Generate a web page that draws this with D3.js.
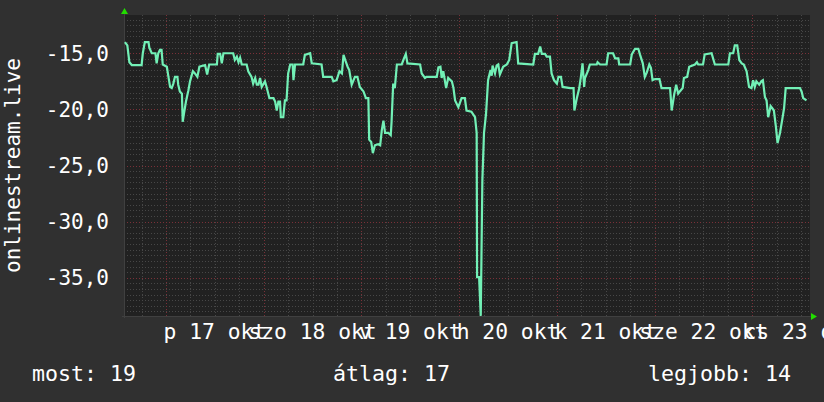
<!DOCTYPE html>
<html><head><meta charset="utf-8">
<script src="https://cdn.jsdelivr.net/npm/d3@7"></script>
<style>html,body{margin:0;padding:0;background:#303030;}svg{display:block;}</style>
</head><body><svg id="c" width="824" height="402"></svg>
<script>
// hours since 2014-10-17 00:00 (Friday)
const hours = [-10.1,-9.5,-9.0,-8.4,-6.0,-5.7,-5.2,-4.3,-4.1,-3.5,-2.6,-2.3,-1.9,-1.5,-1.1,-0.8,0.2,0.6,1.0,1.4,1.8,2.2,2.8,3.0,3.4,3.9,4.1,4.4,4.9,5.5,5.9,6.6,7.1,7.7,8.2,9.6,10.1,10.6,12.5,12.7,13.3,13.7,14.1,16.5,16.9,17.4,17.8,18.2,18.6,19.8,20.2,21.0,21.4,21.9,22.3,22.7,23.1,23.5,24.3,24.7,25.4,26.4,26.8,27.2,27.6,28.0,28.2,28.8,29.2,29.6,30.0,30.5,31.1,31.3,31.7,33.7,34.1,35.4,35.8,38.2,38.6,40.7,41.1,41.9,42.6,43.2,43.6,44.2,44.6,45.0,45.6,46.4,47.0,47.6,48.5,49.1,49.7,49.9,50.4,50.8,51.3,52.1,52.6,53.0,53.4,53.8,54.6,55.2,55.4,55.8,56.2,56.7,57.9,58.3,58.9,59.3,62.4,62.8,63.6,64.0,66.5,66.9,67.4,67.7,68.1,68.8,69.3,70.2,70.6,71.0,71.8,72.6,73.4,73.8,75.0,75.9,76.3,76.4,76.9,77.3,77.7,78.1,78.6,79.1,79.7,80.0,80.2,80.8,81.2,81.6,82.0,82.8,83.7,84.3,84.9,86.1,86.5,90.2,90.6,91.4,91.9,92.3,93.1,93.5,94.3,94.7,95.3,96.0,96.4,97.0,97.4,99.3,100.1,100.3,100.9,101.5,101.9,102.3,102.7,102.9,103.7,104.1,105.8,106.0,106.6,108.2,108.6,109.8,110.3,111.1,111.3,114.0,114.4,115.2,116.0,116.4,117.1,117.6,118.1,118.7,119.1,119.5,120.1,121.2,121.7,123.8,124.2,124.8,125.3,125.8,126.2,126.9,127.2,128.0,128.5,129.9,130.4,130.7,131.9,132.3,134.0,134.8,138.1,138.5,139.3,139.7,140.3,140.8,141.4,141.9,142.6,143.2,143.8,144.2,144.6,145.0,145.7,146.2,146.6,147.1,147.5,147.9,148.5,148.9,149.3,149.8,150.2,150.8,151.4,151.8,152.2,155.7,156.1,156.5,157.3];
const values = [-14.0,-14.3,-15.8,-16.05,-16.05,-15.0,-14.0,-14.0,-14.5,-15.0,-15.0,-15.9,-15.0,-14.7,-14.7,-16.0,-16.2,-17.1,-18.0,-18.1,-17.7,-17.1,-17.1,-17.8,-18.4,-18.6,-21.1,-20.4,-19.3,-18.3,-17.5,-16.6,-16.8,-17.1,-16.2,-16.05,-16.9,-16.0,-16.0,-15.05,-15.05,-15.9,-15.0,-15.0,-15.6,-15.3,-15.8,-15.4,-16.0,-16.0,-16.6,-17.1,-17.7,-17.2,-17.8,-17.8,-17.2,-18.0,-17.5,-18.0,-19.0,-19.0,-19.3,-20.1,-19.3,-19.3,-20.7,-20.7,-19.2,-19.2,-16.8,-16.0,-16.0,-17.4,-16.0,-16.0,-15.15,-15.0,-15.9,-16.0,-17.1,-17.1,-17.5,-17.4,-16.6,-16.8,-15.15,-15.8,-16.2,-16.5,-17.8,-17.1,-17.1,-18.0,-18.4,-19.0,-19.0,-22.7,-22.9,-23.9,-23.2,-23.1,-23.2,-21.85,-21.0,-22.1,-22.1,-22.3,-21.1,-17.7,-18.1,-16.0,-16.0,-15.6,-15.06,-15.9,-16.0,-16.8,-17.2,-17.1,-17.1,-16.25,-16.2,-17.2,-16.6,-18.1,-17.2,-17.5,-18.1,-19.2,-19.8,-19.0,-19.0,-20.1,-20.2,-20.7,-22.1,-34.95,-34.95,-38.4,-26.3,-22.1,-20.4,-17.4,-16.5,-17.0,-16.1,-16.8,-16.1,-16.0,-16.9,-16.2,-16.0,-15.6,-14.1,-14.0,-15.9,-16.0,-15.05,-15.05,-14.4,-15.05,-15.05,-15.3,-15.3,-16.8,-17.4,-17.7,-17.1,-17.1,-18.0,-18.1,-18.1,-20.1,-19.0,-18.1,-17.1,-15.9,-18.0,-17.2,-16.5,-16.0,-16.0,-15.8,-16.0,-16.0,-15.0,-15.0,-15.45,-15.45,-16.0,-16.0,-15.1,-14.6,-14.6,-15.1,-15.9,-17.1,-16.7,-16.0,-16.3,-17.4,-17.3,-17.3,-18.1,-18.1,-20.1,-18.7,-17.8,-18.6,-18.4,-18.1,-17.2,-17.1,-16.2,-16.0,-15.8,-16.0,-16.0,-15.1,-15.0,-16.0,-16.0,-15.0,-15.0,-14.3,-14.3,-15.6,-15.9,-16.0,-16.6,-18.0,-18.1,-17.4,-18.0,-17.5,-17.8,-17.5,-17.4,-18.9,-19.2,-20.7,-19.7,-19.9,-20.1,-21.55,-23.0,-22.1,-20.8,-19.9,-18.1,-18.1,-18.4,-19.0,-19.2];
const xTickLabels = ["p 17 okt","szo 18 okt","v 19 okt","h 20 okt","k 21 okt","sze 22 okt","cs 23 okt"];
const yTickValues = [-35,-30,-25,-20,-15];
const yTitle = "onlinestream.live";
const legendLabels = ["most: 19","átlag: 17","legjobb: 14"];

const svg = d3.select("#c");
const W = 824, H = 402;
const L = 124, R = 810, T = 15, B = 316;
const t0 = new Date(2014, 9, 17, 0, 0, 0);
const at = h => new Date(t0.getTime() + h * 3600e3);
const x = d3.scaleTime().domain([at(-10.32), at(158.17)]).range([L, R]);
const y = d3.scaleLinear().domain([-38.41, -11.59]).range([B, T]);
const data = hours.map((h, i) => ({t: at(h), v: values[i]}));

svg.append("rect").attr("width", W).attr("height", H).attr("fill", "#303030");
svg.append("rect").attr("x", L).attr("y", T).attr("width", R - L).attr("height", B - T).attr("fill", "#212121");

const grid = svg.append("g");
d3.range(-38, -11.5, 0.5).forEach(v => {
  const major = v % 5 === 0;
  grid.append("line").attr("x1", L).attr("x2", R).attr("y1", Math.round(y(v)) + 0.5).attr("y2", Math.round(y(v)) + 0.5)
    .attr("stroke", major ? "#7a3038" : "#474747").attr("stroke-width", 1).attr("stroke-dasharray", "1,2");
});
x.ticks(d3.timeHour.every(6)).forEach(d => {
  const major = d.getHours() === 0;
  const xx = Math.round(x(d)) + 0.5;
  grid.append("line").attr("x1", xx).attr("x2", xx).attr("y1", T).attr("y2", B + 2)
    .attr("stroke", major ? "#7a3038" : "#474747").attr("stroke-width", 1).attr("stroke-dasharray", "1,2");
});

svg.append("line").attr("x1", L - 2).attr("x2", R + 2).attr("y1", B + 0.5).attr("y2", B + 0.5).attr("stroke", "#404040");
svg.append("line").attr("x1", L + 0.5).attr("x2", L + 0.5).attr("y1", T - 2).attr("y2", B + 2).attr("stroke", "#404040");
svg.append("path").attr("d", `M${L-3},${T-1} L${L+4},${T-1} L${L+0.5},${T-7} Z`).attr("fill", "#22dd00");
svg.append("path").attr("d", `M${R+1},${B-3} L${R+1},${B+4} L${R+7},${B+0.5} Z`).attr("fill", "#22dd00");

svg.append("clipPath").attr("id", "pc").append("rect").attr("x", L).attr("y", T).attr("width", R - L).attr("height", B - T + 1);
svg.append("path").datum(data).attr("clip-path", "url(#pc)")
  .attr("fill", "none").attr("stroke", "#72f0b6").attr("stroke-width", 2.2).attr("stroke-linejoin", "miter")
  .attr("d", d3.line().x(d => x(d.t)).y(d => y(d.v)));

const loc = d3.formatLocale({decimal: ",", thousands: " ", grouping: [3], currency: ["", ""], minus: "-"});
const fmt = loc.format(".1f");
const font = "'DejaVu Sans Mono', monospace";
svg.append("g").selectAll("text").data(yTickValues).join("text")
  .attr("x", 109).attr("y", d => y(d) + 7.5).attr("text-anchor", "end")
  .attr("font-family", font).attr("font-size", 21).attr("fill", "#ffffff").text(d => fmt(d));

svg.append("g").selectAll("text").data(xTickLabels).join("text")
  .attr("x", (d, i) => x(at(i * 24 + 12))).attr("y", 339).attr("text-anchor", "middle")
  .attr("font-family", font).attr("font-size", 21.3).attr("fill", "#ffffff").text(d => d);

svg.append("text").attr("transform", `translate(20,${(T + B) / 2}) rotate(-90)`).attr("text-anchor", "middle")
  .attr("font-family", font).attr("font-size", 21).attr("fill", "#ffffff").text(yTitle);

const legX = [32, 333, 648];
svg.append("g").selectAll("text").data(legendLabels).join("text")
  .attr("x", (d, i) => legX[i]).attr("y", 381)
  .attr("font-family", font).attr("font-size", 21.6).attr("fill", "#ffffff").text(d => d);
</script></body></html>
